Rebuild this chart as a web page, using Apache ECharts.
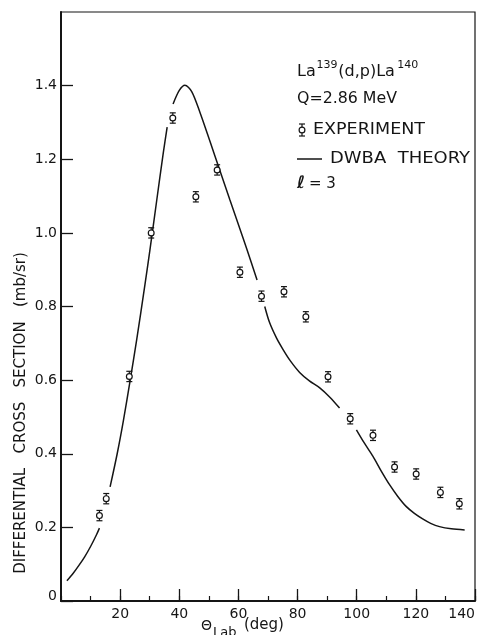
<!DOCTYPE html>
<html><head><meta charset="utf-8">
<script src="https://cdn.jsdelivr.net/npm/echarts@6/dist/echarts.min.js"></script>
<style>html,body{margin:0;padding:0;background:#fff}#c{width:479px;height:635px}</style>
</head><body><div id="c"></div>
<script>
// Experimental data: angle (deg), cross section (mb/sr), error
const expX = [13.0, 15.3, 23.1, 30.5, 37.8, 45.6, 52.8, 60.5, 67.8, 75.4, 82.8, 90.3, 97.8, 105.5, 112.8, 120.1, 128.3, 134.7];
const expY = [0.232, 0.278, 0.610, 1.000, 1.312, 1.098, 1.171, 0.893, 0.828, 0.840, 0.772, 0.609, 0.495, 0.450, 0.364, 0.345, 0.295, 0.264];
const expErr = [0.014, 0.014, 0.014, 0.014, 0.014, 0.014, 0.014, 0.014, 0.014, 0.014, 0.014, 0.014, 0.014, 0.014, 0.014, 0.014, 0.014, 0.014];

// DWBA theory curve (null = gap in drawn line)
const curveX = [2, 4, 6, 8, 10, 12, 13, 14.5, 16.6, 19, 21.1, 23.4, 25.6, 28.4, 30.1, 32.4, 34.6, 35.9, 37, 37.9, 40, 41.9, 44.2, 47, 50.4, 53.7, 57.1, 59.9, 62.8, 66.3, 67.5, 68.9, 70.5, 72.9, 75.1, 77.5, 80.7, 84, 87.5, 91, 94.2, 97, 99.9, 102.5, 105.5, 108.3, 111.1, 113.9, 116.7, 119.5, 122.3, 125, 128, 132, 136.5];
const curveY = [0.055, 0.074, 0.096, 0.120, 0.148, 0.180, 0.198, null, 0.310, 0.400, 0.490, 0.600, 0.710, 0.860, 0.955, 1.090, 1.218, 1.287, null, 1.350, 1.387, 1.401, 1.384, 1.327, 1.248, 1.170, 1.090, 1.025, 0.957, 0.872, null, 0.800, 0.757, 0.714, 0.683, 0.653, 0.621, 0.598, 0.579, 0.553, 0.524, null, 0.465, 0.430, 0.393, 0.353, 0.316, 0.284, 0.257, 0.238, 0.223, 0.211, 0.202, 0.196, 0.193];

const xMin = 0, xMax = 140, xStep = 20, xMinorStep = 10;
const yMin = 0, yMax = 1.6, yStep = 0.2;

const yTitle = 'DIFFERENTIAL   CROSS   SECTION   (mb/sr)';
const legendLines = ['Q=2.86 MeV', 'EXPERIMENT', 'DWBA  THEORY', '\u2113', '= 3'];

const FONT = '"DejaVu Sans", sans-serif';
const INK = '#151515';

const ctx = document.createElement('canvas').getContext('2d');
function tw(t, font) { ctx.font = font; return ctx.measureText(t).width; }
function fitText(t, x, y, size, targetW, extra) {
  const font = size + 'px ' + FONT;
  const w = tw(t, font);
  return Object.assign({ type: 'text', x: x, y: y, scaleX: targetW / w, originX: 0,
    style: { text: t, font: font, fill: INK, textAlign: 'left', textVerticalAlign: 'middle' } }, extra || {});
}

// reaction label with superscripts
const rxPieces = [['La', 16, 0], ['139', 11, -7], ['(d,p)La', 16, 0], ['140', 11, -7]];
const rxGraphics = [];
let px = 297;
rxPieces.forEach(p => {
  const f = p[1] + 'px ' + FONT;
  rxGraphics.push({ type: 'text', x: px, y: 72 + p[2], style: { text: p[0], font: f, fill: INK, textAlign: 'left', textVerticalAlign: 'middle' } });
  px += tw(p[0], f) * 1.04;
});

const curveData = curveX.map((x, i) => [x, curveY[i] === null ? '-' : curveY[i]]);
const expData = expX.map((x, i) => [x, expY[i], expErr[i]]);

const chart = echarts.init(document.getElementById('c'), null, { renderer: 'canvas' });

function errGlyph(cx, cy, top, bot) {
  const s = { stroke: INK, lineWidth: 1.2, fill: null };
  return [
    { type: 'line', shape: { x1: cx, y1: top, x2: cx, y2: bot }, style: s },
    { type: 'line', shape: { x1: cx - 3, y1: top, x2: cx + 3, y2: top }, style: s },
    { type: 'line', shape: { x1: cx - 3, y1: bot, x2: cx + 3, y2: bot }, style: s },
    { type: 'circle', shape: { cx: cx, cy: cy, r: 2.9 }, style: { fill: '#fff', stroke: INK, lineWidth: 1.2 } }
  ];
}

chart.setOption({
  animation: false,
  backgroundColor: '#fff',
  grid: { left: 61, right: 4, top: 12, bottom: 34, show: true, borderColor: INK, borderWidth: 1.2, backgroundColor: 'transparent' },
  xAxis: [{
    type: 'value', min: xMin, max: xMax, interval: xStep,
    axisLine: { lineStyle: { color: INK, width: 2 } },
    axisTick: { inside: true, length: 12, lineStyle: { color: INK, width: 1.3 } },
    splitLine: { show: false },
    axisLabel: { color: INK, fontFamily: FONT, fontSize: 14, margin: 6, showMinLabel: false, alignMaxLabel: 'right' }
  }, {
    type: 'value', position: 'bottom', min: xMin, max: xMax, interval: xMinorStep,
    axisLine: { show: false },
    axisTick: { inside: true, length: 5, lineStyle: { color: INK, width: 1.2 } },
    splitLine: { show: false },
    axisLabel: { show: false }
  }],
  yAxis: {
    type: 'value', min: yMin, max: yMax, interval: yStep,
    axisLine: { lineStyle: { color: INK, width: 2 } },
    axisTick: { inside: true, length: 12, lineStyle: { color: INK, width: 1.3 } },
    splitLine: { show: false },
    axisLabel: { color: INK, fontFamily: FONT, fontSize: 14, margin: 4, showMaxLabel: false,
      formatter: v => v === 0 ? '{z|0}' : v.toFixed(1),
      rich: { z: { fontFamily: FONT, fontSize: 14, color: INK, padding: [0, 0, 10, 0] } } }
  },
  series: [
    { type: 'line', xAxisIndex: 0, data: curveData, smooth: 0.3, showSymbol: false, connectNulls: false,
      lineStyle: { color: INK, width: 1.5 }, z: 2 },
    { type: 'custom', xAxisIndex: 0, data: expData, z: 3,
      renderItem: function (params, api) {
        const x = api.value(0), y = api.value(1), e = api.value(2);
        const c = api.coord([x, y]);
        const t = api.coord([x, y + e])[1];
        const b = api.coord([x, y - e])[1];
        return { type: 'group', children: errGlyph(c[0], c[1], t, b) };
      } }
  ],
  graphic: [
    ...rxGraphics,
    fitText(legendLines[0], 297, 99, 16, 100),
    { type: 'group', children: errGlyph(302, 130, 124, 136) },
    fitText(legendLines[1], 313, 130, 16, 112),
    { type: 'line', shape: { x1: 297, y1: 159, x2: 322, y2: 159 }, style: { stroke: INK, lineWidth: 1.5 } },
    fitText(legendLines[2], 330, 159, 16, 140),
    { type: 'text', x: 297, y: 184, style: { text: legendLines[3], font: 'italic bold 17px ' + FONT, fill: INK, textVerticalAlign: 'middle' } },
    { type: 'text', x: 309, y: 184, style: { text: legendLines[4], font: '15px ' + FONT, fill: INK, textVerticalAlign: 'middle' } },
    { type: 'text', x: 21, y: 413, rotation: Math.PI / 2, style: { text: yTitle, font: '15px ' + FONT, fill: INK, textAlign: 'center', textVerticalAlign: 'middle' } },
    { type: 'text', x: 201, y: 626, style: { text: '\u0398', font: '14px ' + FONT, fill: INK, textVerticalAlign: 'middle' } },
    { type: 'text', x: 213, y: 633, style: { text: 'Lab', font: '13px ' + FONT, fill: INK, textVerticalAlign: 'middle' } },
    { type: 'text', x: 244, y: 625, style: { text: '(deg)', font: '15px ' + FONT, fill: INK, textVerticalAlign: 'middle' } }
  ]
});
</script>
</body></html>
